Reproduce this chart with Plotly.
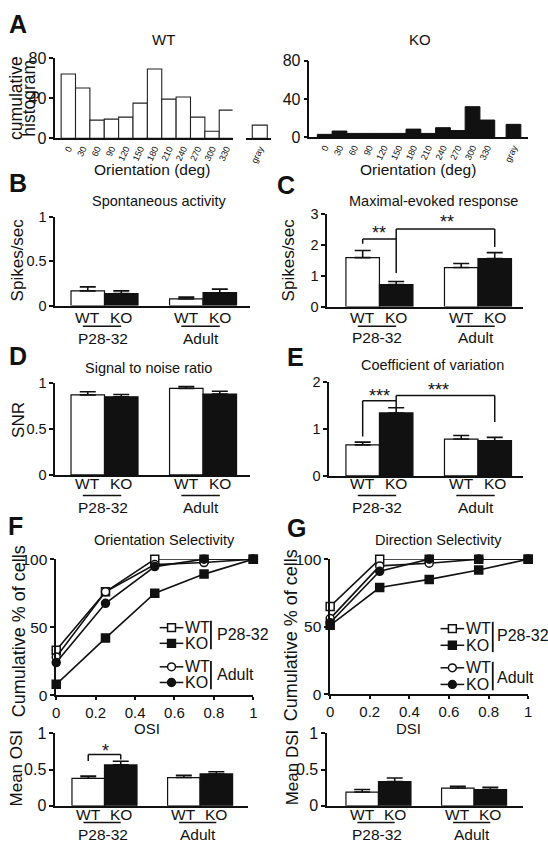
import plotly.graph_objects as go

# ---------------- data ----------------
orientations = ["0", "30", "60", "90", "120", "150", "180", "210", "240", "270", "300", "330"]
gray_label = ["gray"]
wt_hist = [64, 50, 18, 19, 21, 35, 69, 39, 41, 21, 7, 28]
wt_gray = [13]
ko_hist = [3, 6.5, 4, 4, 4, 4, 8.5, 4, 10, 7, 32, 18]
ko_gray = [13.5]
hist_ticks = [0, 40, 80]

groups = ["P28-32", "Adult"]
genotypes = ["WT", "KO"]

spont_wt = [0.165, 0.075]
spont_wt_err = [0.045, 0.02]
spont_ko = [0.135, 0.145]
spont_ko_err = [0.03, 0.04]

maxev_wt = [1.58, 1.26]
maxev_wt_err = [0.23, 0.13]
maxev_ko = [0.71, 1.55]
maxev_ko_err = [0.10, 0.19]

snr_wt = [0.87, 0.94]
snr_wt_err = [0.035, 0.02]
snr_ko = [0.85, 0.88]
snr_ko_err = [0.025, 0.03]

cv_wt = [0.66, 0.785]
cv_wt_err = [0.06, 0.075]
cv_ko = [1.34, 0.75]
cv_ko_err = [0.11, 0.07]

osi_wt = [0.38, 0.39]
osi_wt_err = [0.03, 0.03]
osi_ko = [0.565, 0.44]
osi_ko_err = [0.05, 0.03]

dsi_wt = [0.19, 0.245]
dsi_wt_err = [0.035, 0.025]
dsi_ko = [0.335, 0.225]
dsi_ko_err = [0.05, 0.03]

index_bins = [0, 0.25, 0.5, 0.75, 1]
osi_cum_wt_p28 = [33, 76, 100, 100, 100]
osi_cum_ko_p28 = [8, 42, 75, 89, 100]
osi_cum_wt_adult = [28, 76, 96, 97.5, 100]
osi_cum_ko_adult = [24, 67.5, 94.5, 100, 100]
dsi_cum_wt_p28 = [65, 100, 100, 100, 100]
dsi_cum_ko_p28 = [51, 79, 85, 92, 100]
dsi_cum_wt_adult = [56, 95, 97, 100, 100]
dsi_cum_ko_adult = [53, 91, 100, 100, 100]

# ---------------- styling / layout helpers ----------------
W, H = 548, 853
FONT = "Liberation Sans, Arial, Helvetica, sans-serif"
BLACK = "#111111"
BARGAP = 0.32
OFF = (1 - BARGAP) / 4  # distance from group centre to each bar centre


def xd(a, b):
    return [a / W, b / W]


def yd(top, bottom):
    return [1 - bottom / H, 1 - top / H]


annotations = []
shapes = []


def text(x, y, s, size, xref="paper", yref="paper", xanchor="center",
         yanchor="middle", angle=0, bold=False):
    if xref == "paper":
        x = x / W
    if yref == "paper":
        y = 1 - y / H
    annotations.append(dict(
        x=x, y=y, xref=xref, yref=yref,
        text=f"<b>{s}</b>" if bold else s, showarrow=False,
        xanchor=xanchor, yanchor=yanchor, textangle=angle,
        font=dict(family=FONT, size=size, color=BLACK)))


def line(x0, y0, x1, y1, xref="paper", yref="paper", width=1.5):
    if xref == "paper":
        x0, x1 = x0 / W, x1 / W
    if yref == "paper":
        y0, y1 = 1 - y0 / H, 1 - y1 / H
    shapes.append(dict(type="line", x0=x0, y0=y0, x1=x1, y1=y1,
                       xref=xref, yref=yref,
                       line=dict(color=BLACK, width=width)))


def yax(domain, rng, tickvals, size, anchor):
    return dict(domain=domain, range=rng, tickvals=tickvals, showline=True,
                linecolor=BLACK, linewidth=1.5, ticks="outside", ticklen=4,
                tickwidth=1.5, tickcolor=BLACK, showgrid=False, zeroline=False,
                tickfont=dict(size=size, family=FONT, color=BLACK),
                anchor=anchor, fixedrange=True)


def xcat(domain, rng, anchor, show_labels=False, size=9, angle=-65):
    return dict(domain=domain, range=rng, type="category", showline=True,
                linecolor=BLACK, linewidth=1.5, ticks="", showgrid=False,
                zeroline=False, showticklabels=show_labels, tickangle=angle,
                tickfont=dict(size=size, family=FONT, color=BLACK),
                anchor=anchor, fixedrange=True)


layout_axes = {}
# A: histograms
layout_axes["xaxis"] = xcat(xd(52, 232), [-0.91, 11.43], "y", True)
layout_axes["xaxis2"] = xcat(xd(246, 271), [-0.89, 0.75], "y", True)
layout_axes["yaxis"] = yax(yd(50, 132), [0, 80], hist_ticks, 16, "x")
layout_axes["xaxis3"] = xcat(xd(310, 504), [-1.03, 11.9], "y3", True)
layout_axes["xaxis4"] = xcat(xd(504, 532), [-0.87, 1.0], "y3", True)
layout_axes["yaxis3"] = yax(yd(53, 131), [0, 80], hist_ticks, 16, "x3")
# B, C, D, E, F-bottom, G-bottom bar panels
bar_axes = {
    5: (xd(52, 250), [-0.5, 1.48], yd(212, 303), [0, 1], [0, 0.5, 1]),
    6: (xd(328, 527), [-0.53, 1.46], yd(209, 304), [0, 3], [0, 1, 2, 3]),
    7: (xd(52, 250), [-0.5, 1.48], yd(382, 476), [0, 1], [0, 0.5, 1]),
    8: (xd(330, 527), [-0.51, 1.46], yd(381, 477), [0, 2], [0, 1, 2]),
    11: (xd(52, 248), [-0.515, 1.505], yd(740, 814), [0, 1], [0, 0.5, 1]),
    12: (xd(328, 527), [-0.536, 1.515], yd(740, 814), [0, 1], [0, 0.5, 1]),
}
for k, (xdom, xr, ydom, yr, tv) in bar_axes.items():
    fs = 16 if k in (11, 12) else 14.5
    layout_axes[f"xaxis{k}"] = xcat(xdom, xr, f"y{k}")
    layout_axes[f"yaxis{k}"] = yax(ydom, yr, tv, fs, f"x{k}")
# F and G cumulative plots
for k, xdom, ydom in ((9, xd(53, 253), yd(562, 701)), (10, xd(331, 532), yd(562, 700))):
    layout_axes[f"xaxis{k}"] = dict(
        domain=xdom, range=[0, 1], tickvals=[0, 0.2, 0.4, 0.6, 0.8, 1],
        showline=True, linecolor=BLACK, linewidth=1.5, ticks="outside",
        ticklen=3, tickwidth=1.5, tickcolor=BLACK, showgrid=False,
        zeroline=False, tickfont=dict(size=15, family=FONT, color=BLACK),
        anchor=f"y{k}", fixedrange=True)
    layout_axes[f"yaxis{k}"] = yax(ydom, [0, 100], [0, 50, 100], 15.5, f"x{k}")

fig = go.Figure()

# ---------------- A: histograms ----------------
fig.add_trace(go.Bar(x=orientations, y=wt_hist, xaxis="x", yaxis="y", width=1,
                     marker=dict(color="white", line=dict(color="#222222", width=1.1))))
fig.add_trace(go.Bar(x=gray_label, y=wt_gray, xaxis="x2", yaxis="y", width=1,
                     marker=dict(color="white", line=dict(color="#222222", width=1.1))))
fig.add_trace(go.Bar(x=orientations, y=ko_hist, xaxis="x3", yaxis="y3", width=1,
                     marker=dict(color=BLACK, line=dict(color=BLACK, width=1))))
fig.add_trace(go.Bar(x=gray_label, y=ko_gray, xaxis="x4", yaxis="y3", width=1,
                     marker=dict(color=BLACK, line=dict(color=BLACK, width=1))))

# ---------------- bar panels ----------------
bar_data = {
    5: (spont_wt, spont_wt_err, spont_ko, spont_ko_err),
    6: (maxev_wt, maxev_wt_err, maxev_ko, maxev_ko_err),
    7: (snr_wt, snr_wt_err, snr_ko, snr_ko_err),
    8: (cv_wt, cv_wt_err, cv_ko, cv_ko_err),
    11: (osi_wt, osi_wt_err, osi_ko, osi_ko_err),
    12: (dsi_wt, dsi_wt_err, dsi_ko, dsi_ko_err),
}
for k, (wt, wte, ko, koe) in bar_data.items():
    for name, vals, errs, fill in (("WT", wt, wte, "white"), ("KO", ko, koe, BLACK)):
        fig.add_trace(go.Bar(
            x=groups, y=vals, name=name, xaxis=f"x{k}", yaxis=f"y{k}",
            marker=dict(color=fill, line=dict(color=BLACK, width=1.2)),
            error_y=dict(type="data", array=errs, arrayminus=[0] * len(errs),
                         symmetric=False, color=BLACK, thickness=1.6, width=8)))

# ---------------- F / G cumulative ----------------
series_style = [("square", "white"), ("square", BLACK), ("circle", "white"), ("circle", BLACK)]
for k, series in ((9, [osi_cum_wt_p28, osi_cum_ko_p28, osi_cum_wt_adult, osi_cum_ko_adult]),
                  (10, [dsi_cum_wt_p28, dsi_cum_ko_p28, dsi_cum_wt_adult, dsi_cum_ko_adult])):
    for vals, (sym, fill) in zip(series, series_style):
        fig.add_trace(go.Scatter(
            x=index_bins, y=vals, mode="lines+markers", xaxis=f"x{k}", yaxis=f"y{k}",
            cliponaxis=False, line=dict(color=BLACK, width=1.6),
            marker=dict(symbol=sym, size=8, color=fill, line=dict(color=BLACK, width=1.5))))

# ---------------- text ----------------
# panel letters
for letter, x, y in (("A", 14, 15), ("B", 14, 178), ("C", 286, 180), ("D", 14, 354),
                     ("E", 296, 356), ("F", 12, 528), ("G", 297, 530)):
    text(x, y, letter, 25, bold=True)

# titles
text(162, 31, "WT", 15)
text(422, 31, "KO", 15)
text(158, 196, "Spontaneous activity", 14.5)
text(436, 196, "Maximal-evoked response", 14.5)
text(147, 367, "Signal to noise ratio", 14.5)
text(435, 364, "Coefficient of variation", 14.5)
text(163, 542, "Orientation Selectivity", 14.5)
text(441, 542, "Direction Selectivity", 14.5)

# axis titles
text(150, 164, "Orientation (deg)", 15.5)
text(420, 164, "Orientation (deg)", 15.5)
text(145, 735, "OSI", 15)
text(410, 735, "DSI", 15)
text(12, 91, "cumulative", 17.5, angle=-90)
text(25, 91, "histogram", 17.5, angle=-90)
text(14, 256, "Spikes/sec", 17, angle=-90)
text(289, 256, "Spikes/sec", 17, angle=-90)
text(14, 420, "SNR", 17, angle=-90)
text(15, 636, "Cumulative % of cells", 18, angle=-90)
text(292, 640, "Cumulative % of cells", 18, angle=-90)
text(13, 775, "Mean OSI", 17, angle=-90)
text(293, 775, "Mean DSI", 17, angle=-90)

# WT/KO and group labels under bar panels
label_rows = {5: (315, 324, 337), 6: (315, 324, 336), 7: (485, 497, 509),
              8: (485, 497, 509), 11: (823, 831, 843), 12: (823, 831, 843)}
for k, (ylab, yline, ygrp) in label_rows.items():
    for g, grp in enumerate(groups):
        text(g - OFF, ylab, genotypes[0], 15.5, xref=f"x{k}")
        text(g + OFF, ylab, genotypes[1], 15.5, xref=f"x{k}")
        line(g - 0.22, yline, g + 0.17, yline, xref=f"x{k}")
        text(g - 0.02, ygrp, grp, 15.5, xref=f"x{k}")


# significance brackets
def bracket(k, pts):
    for (x0, y0), (x1, y1) in zip(pts[:-1], pts[1:]):
        line(x0, y0, x1, y1, xref=f"x{k}", yref=f"y{k}")


bracket(6, [(-OFF, 2.03), (-OFF, 2.18), (OFF, 2.18)])
bracket(6, [(OFF, 1.08), (OFF, 2.5), (1 + OFF, 2.5), (1 + OFF, 1.92)])
text(0, 2.36, "**", 18, xref="x6", yref="y6")
text(0.69, 2.74, "**", 18, xref="x6", yref="y6")

bracket(8, [(-OFF, 0.84), (-OFF, 1.6), (OFF, 1.6)])
bracket(8, [(OFF, 1.46), (OFF, 1.71), (1 + OFF, 1.71), (1 + OFF, 1.15)])
text(0, 1.70, "***", 18, xref="x8", yref="y8")
text(0.6, 1.83, "***", 18, xref="x8", yref="y8")

bracket(11, [(-OFF, 0.617), (-OFF, 0.707), (OFF, 0.707), (OFF, 0.64)])
text(0.01, 0.76, "*", 18, xref="x11", yref="y11")


# manual legends for F and G
def legend_block(xs0, xs1, xm, xt, xbar, xg, rows, bar_spans, group_ys):
    for (y, (sym, fill), lab) in rows:
        line(xs0, y, xs1, y)
        r = 4
        shapes.append(dict(type="rect" if sym == "square" else "circle",
                           x0=(xm - r) / W, x1=(xm + r) / W,
                           y0=1 - (y + r) / H, y1=1 - (y - r) / H,
                           xref="paper", yref="paper", fillcolor=fill,
                           line=dict(color=BLACK, width=1.5)))
        text(xt, y, lab, 16, xanchor="left")
    for (y0, y1) in bar_spans:
        line(xbar, y0, xbar, y1, width=1.8)
    for y, lab in zip(group_ys, groups):
        text(xg, y, lab, 16, xanchor="left")


rowsF = [(632, series_style[0], "WT"), (648, series_style[1], "KO"),
         (672, series_style[2], "WT"), (688, series_style[3], "KO")]
legend_block(158, 182, 170, 182, 210, 214, rowsF, [(625, 654), (666, 695)], [639, 680])
rowsG = [(633, series_style[0], "WT"), (650, series_style[1], "KO"),
         (673, series_style[2], "WT"), (690, series_style[3], "KO")]
legend_block(443, 467, 455, 467, 496, 498, rowsG, [(626, 657), (667, 696)], [640, 683])

fig.update_layout(
    width=W, height=H, margin=dict(l=0, r=0, t=0, b=0),
    paper_bgcolor="white", plot_bgcolor="white", showlegend=False,
    barmode="group", bargap=BARGAP, bargroupgap=0,
    font=dict(family=FONT, color=BLACK),
    annotations=annotations, shapes=shapes, **layout_axes)

fig.write_html("out.html", config={"displayModeBar": False},
               post_script="document.body.style.margin='0';document.body.style.padding='0';")
